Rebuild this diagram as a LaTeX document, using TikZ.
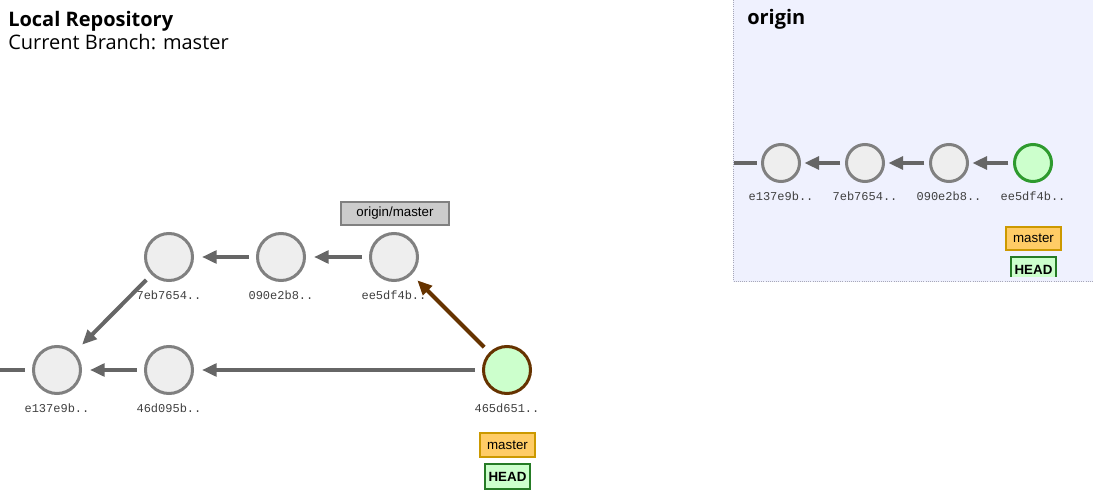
\documentclass[tikz,border=0pt]{standalone}
\usepackage{fontspec}
\setmainfont{Liberation Sans}
\setmonofont{Liberation Mono}
\newfontfamily\headfont{Open Sans}
\usetikzlibrary{arrows.meta,positioning,calc}
\definecolor{commitfill}{HTML}{EEEEEE}
\definecolor{commitline}{HTML}{808080}
\definecolor{histgray}{HTML}{666666}
\definecolor{mergebrown}{HTML}{663300}
\definecolor{headfill}{HTML}{CCFFCC}
\definecolor{headgreen}{HTML}{2E9A2E}
\definecolor{tagorange}{HTML}{FFCC66}
\definecolor{tagorangeln}{HTML}{CC9900}
\definecolor{remotefill}{HTML}{CCCCCC}
\definecolor{panelbg}{HTML}{EFF1FE}
\definecolor{panelline}{HTML}{A8A8B8}
\tikzset{
  commit/.style={circle,draw=commitline,fill=commitfill,line width=2.25pt,
                 minimum size=35.25pt,inner sep=0pt},
  smallcommit/.style={commit,minimum size=27.75pt},
  tipcommit/.style={fill=headfill,draw=headgreen},
  mergecommit/.style={fill=headfill,draw=mergebrown},
  hashlbl/.style={font=\ttfamily\fontsize{9}{10}\selectfont,text=black!75,inner sep=0pt},
  branchtag/.style={draw=tagorangeln,fill=tagorange,line width=1.5pt,
                    font=\fontsize{10}{11}\selectfont,minimum height=17.5pt,
                    inner xsep=5.5pt,inner ysep=0pt},
  remotetag/.style={draw=commitline,fill=remotefill,line width=1.5pt,
                    font=\fontsize{10}{11}\selectfont,minimum height=17.5pt,
                    minimum width=81pt,inner ysep=0pt},
  headtag/.style={draw=headgreen!80!black,fill=headfill,line width=1.5pt,
                  font=\bfseries\fontsize{10}{11}\selectfont,minimum height=19pt,
                  inner xsep=2.5pt,inner ysep=0pt},
  histarr/.style={-{Triangle[length=11pt,width=9.5pt]},line width=3pt,color=histgray,
                  shorten <=5.5pt,shorten >=6pt},
  mergearr/.style={histarr,color=mergebrown},
  stubline/.style={line width=3pt,color=histgray,shorten >=5pt},
  paneltitle/.style={anchor=base west,font=\headfont\bfseries\fontsize{15}{17}\selectfont,inner sep=0pt}
}

\begin{document}
\begin{tikzpicture}[x=0.75pt,y=-0.75pt]
  \useasboundingbox (0,0) rectangle (1093,502);
  \fill[white] (0,0) rectangle (1093,502);

  % local repository
  \node[paneltitle] (localtitle) at (8,27) {Local Repository};
  \node[anchor=base west,font=\headfont\fontsize{15}{17}\selectfont,inner sep=0pt]
    (curbranch) at (8,50) {Current Branch: master};

  \node[commit] (le137) at (57,370) {};
  \node[commit] (l46d0) at (169,370) {};
  \node[commit] (l7eb7) at (169,257) {};
  \node[commit] (l090e) at (281,257) {};
  \node[commit] (lee5d) at (394,257) {};
  \node[commit,mergecommit] (l465d) at (507,370) {};

  \node[hashlbl] (le137lbl) at (57,408) {e137e9b..};
  \node[hashlbl] (l46d0lbl) at (169,408) {46d095b..};
  \node[hashlbl] (l7eb7lbl) at (169,295) {7eb7654..};
  \node[hashlbl] (l090elbl) at (281,295) {090e2b8..};
  \node[hashlbl] (lee5dlbl) at (394,295) {ee5df4b..};
  \node[hashlbl] (l465dlbl) at (507,408) {465d651..};

  \coordinate (lstub) at (0,370);
  \draw[stubline] (lstub) -- (le137);
  \draw[histarr] (l46d0) -- (le137);
  \draw[histarr,shorten >=8pt] (l7eb7) -- (le137);
  \draw[histarr] (l090e) -- (l7eb7);
  \draw[histarr] (lee5d) -- (l090e);
  \draw[histarr] (l465d) -- (l46d0);
  \draw[mergearr] (l465d) -- (lee5d);

  \node[remotetag] (originmaster) at (395,213.5) {origin/master};
  \node[branchtag] (lmaster) at (507.5,445) {master};
  \node[headtag] (lhead) at (507.5,476.5) {HEAD};

  % origin
  \fill[panelbg] (733,0) rectangle (1093,282);
  \draw[panelline,densely dotted,line width=0.6pt] (733.5,0) -- (733.5,281.5) -- (1093,281.5);
  \node[paneltitle] (origintitle) at (747,25) {origin};

  \node[smallcommit] (re137) at (781,163) {};
  \node[smallcommit] (r7eb7) at (865,163) {};
  \node[smallcommit] (r090e) at (949,163) {};
  \node[smallcommit,tipcommit] (ree5d) at (1033,163) {};

  \node[hashlbl] (re137lbl) at (781,196) {e137e9b..};
  \node[hashlbl] (r7eb7lbl) at (865,196) {7eb7654..};
  \node[hashlbl] (r090elbl) at (949,196) {090e2b8..};
  \node[hashlbl] (ree5dlbl) at (1033,196) {ee5df4b..};

  \coordinate (rstub) at (734,163);
  \draw[stubline,shorten >=3pt] (rstub) -- (re137);
  \draw[histarr,shorten <=3.5pt,shorten >=2.5pt] (r7eb7) -- (re137);
  \draw[histarr,shorten <=3.5pt,shorten >=2.5pt] (r090e) -- (r7eb7);
  \draw[histarr,shorten <=3.5pt,shorten >=2.5pt] (ree5d) -- (r090e);

  \node[branchtag] (rmaster) at (1033.5,238.5) {master};
  \begin{scope}
    \clip (733,0) rectangle (1093,277);
    \node[headtag] (rhead) at (1033.5,269.5) {HEAD};
  \end{scope}
\end{tikzpicture}
\end{document}
